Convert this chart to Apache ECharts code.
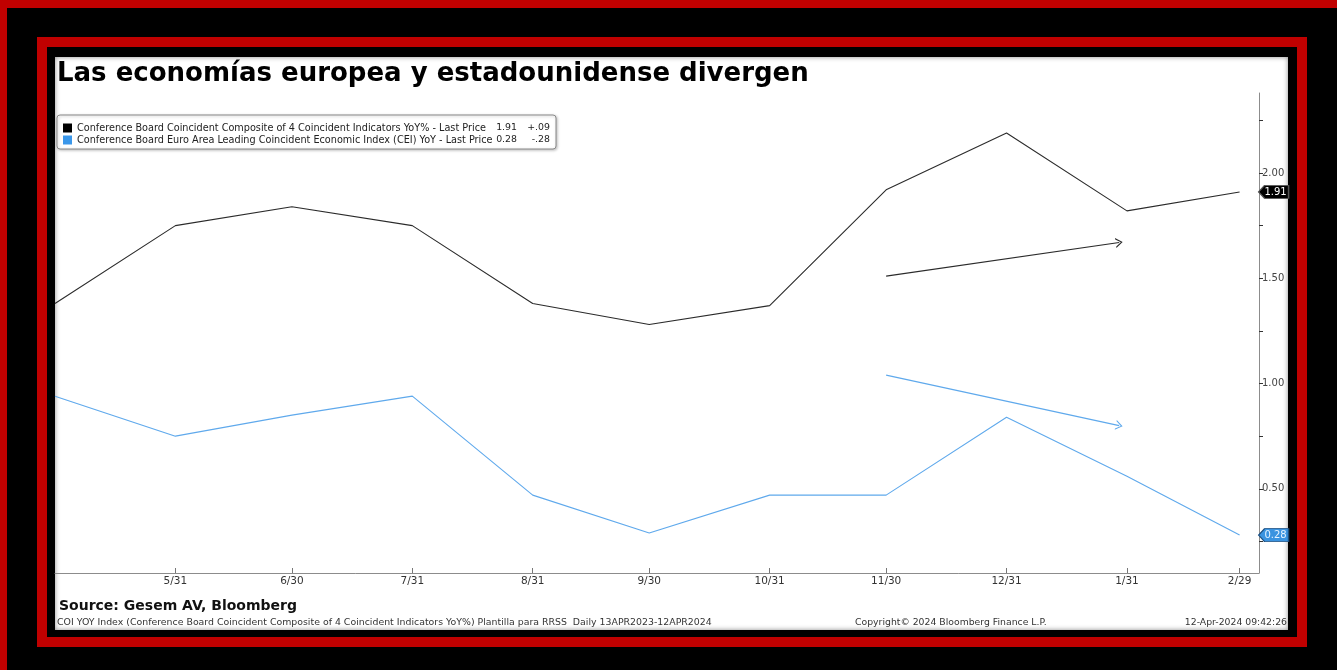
<!DOCTYPE html>
<html>
<head>
<meta charset="utf-8">
<script src="https://cdn.jsdelivr.net/npm/echarts@6/dist/echarts.min.js"></script>
<style>
  html, body { margin: 0; padding: 0; width: 1337px; height: 670px; overflow: hidden; background: #000; }
  .abs { position: absolute; }
  #topRed { left: 0; top: 0; width: 1337px; height: 8px; background: #c00000; }
  #leftRed { left: 0; top: 0; width: 7px; height: 670px; background: #c00000; }
  #frame { left: 37px; top: 37px; width: 1250px; height: 590px; border: 10px solid #c00000; background: #000; }
  #panel { left: 55px; top: 57px; width: 1233px; height: 573px; background: #fff; box-shadow: inset 0 0 5px rgba(0,0,0,0.45); }
  #chart { left: 0; top: 0; width: 1337px; height: 670px; }
</style>
</head>
<body>
<div class="abs" id="topRed"></div>
<div class="abs" id="leftRed"></div>
<div class="abs" id="frame"></div>
<div class="abs" id="panel"></div>
<div class="abs" id="chart"></div>
<script>
// ---- Data ----
const dates = ['2023-04-30','2023-05-31','2023-06-30','2023-07-31','2023-08-31','2023-09-30','2023-10-31','2023-11-30','2023-12-31','2024-01-31','2024-02-29'];
const usValues = [1.38, 1.75, 1.84, 1.75, 1.38, 1.28, 1.37, 1.92, 2.19, 1.82, 1.91];
const euValues = [0.94, 0.75, 0.85, 0.94, 0.47, 0.29, 0.47, 0.47, 0.84, 0.56, 0.28];
const xTickLabels = ['2023-05-31','2023-06-30','2023-07-31','2023-08-31','2023-09-30','2023-10-31','2023-11-30','2023-12-31','2024-01-31','2024-02-29'];
const yTickLabels = [0.5, 1.0, 1.5, 2.0];
const yMinorTicks = [0.25, 0.5, 0.75, 1.0, 1.25, 1.5, 1.75, 2.0, 2.25];
const usChange = '+.09';
const euChange = '-.28';
const usArrow = [['2023-11-30', 1.51], ['2024-01-29', 1.67]];
const euArrow = [['2023-11-30', 1.04], ['2024-01-29', 0.80]];
const usName = 'Conference Board Coincident Composite of 4 Coincident Indicators YoY% - Last Price';
const euName = 'Conference Board Euro Area Leading Coincident Economic Index (CEI) YoY - Last Price';

const ts = s => new Date(s + 'T00:00:00').getTime();
const usData = dates.map((d, i) => [ts(d), usValues[i]]);
const euData = dates.map((d, i) => [ts(d), euValues[i]]);

const chevron = 'path://M0,10 L5,0 L10,10 L8.6,10 L5,2.6 L1.4,10 Z';
const tagPath = 'path://M0,6 L6,0 L30,0 L30,12 L6,12 Z';

function arrowLine(a, color) {
  return {
    silent: true,
    symbol: ['none', chevron],
    symbolSize: [10, 7],
    label: { show: false },
    lineStyle: { color: color, width: 1.2, type: 'solid' },
    emphasis: { disabled: true },
    data: [[{ coord: [ts(a[0][0]), a[0][1]] }, { coord: [ts(a[1][0]), a[1][1]] }]]
  };
}
function tag(data, fill, stroke, textColor) {
  const last = data[data.length - 1];
  return {
    silent: true,
    symbol: tagPath,
    symbolSize: [30, 13],
    symbolOffset: [34, 0],
    itemStyle: { color: fill, borderColor: stroke, borderWidth: 1 },
    label: {
      show: true, position: 'inside', offset: [2, 0],
      formatter: () => last[1].toFixed(2),
      color: textColor, fontSize: 10, fontFamily: 'DejaVu Sans'
    },
    data: [{ coord: last, value: last[1] }]
  };
}

const lastUS = usValues[usValues.length - 1].toFixed(2);
const lastEU = euValues[euValues.length - 1].toFixed(2);

const chart = echarts.init(document.getElementById('chart'), null, { renderer: 'canvas' });
chart.setOption({
  backgroundColor: 'transparent',
  animation: false,
  title: {
    text: 'Las economías europea y estadounidense divergen',
    left: 57, top: 61, padding: 0,
    textStyle: { fontFamily: 'DejaVu Sans', fontWeight: 'bold', fontSize: 26, color: '#000' }
  },
  legend: {
    orient: 'vertical',
    left: 57, top: 115,
    padding: [7, 6, 3, 6],
    itemGap: 0,
    itemWidth: 9, itemHeight: 9,
    icon: 'rect',
    backgroundColor: '#fff',
    borderColor: '#8a8a8a', borderWidth: 1, borderRadius: 3,
    shadowColor: 'rgba(0,0,0,0.25)', shadowBlur: 3, shadowOffsetX: 1, shadowOffsetY: 1,
    selectedMode: false,
    data: [usName, euName],
    formatter: name => {
      const isUS = name === usName;
      return '{n|' + name + '}{v|' + (isUS ? lastUS : lastEU) + '}{c|' + (isUS ? usChange : euChange) + '}';
    },
    textStyle: {
      fontFamily: 'DejaVu Sans', fontSize: 9.7, color: '#222', lineHeight: 12,
      rich: {
        n: { width: 420, fontFamily: 'DejaVu Sans', fontSize: 9.7, color: '#222', lineHeight: 12 },
        v: { width: 20, align: 'right', fontFamily: 'DejaVu Sans', fontSize: 9.4, color: '#222', lineHeight: 12 },
        c: { width: 33, align: 'right', fontFamily: 'DejaVu Sans', fontSize: 9.4, color: '#222', lineHeight: 12 }
      }
    }
  },
  grid: { left: 55, right: 78, top: 93, bottom: 97, containLabel: false },
  xAxis: {
    type: 'value',
    min: ts('2023-04-30'),
    max: ts('2024-03-05'),
    axisLine: { lineStyle: { color: '#8c8c8c', width: 1 } },
    axisTick: { show: true, inside: true, length: 5, lineStyle: { color: '#777' }, customValues: xTickLabels.map(ts) },
    axisLabel: {
      customValues: xTickLabels.map(ts),
      formatter: v => { const d = new Date(v); return (d.getMonth() + 1) + '/' + d.getDate(); },
      color: '#333', fontSize: 10.5, fontFamily: 'DejaVu Sans', margin: 3
    },
    splitLine: { show: false }
  },
  yAxis: {
    type: 'value',
    position: 'right',
    min: 0.1, max: 2.38,
    axisLine: { show: true, lineStyle: { color: '#8c8c8c', width: 1 } },
    axisTick: { show: true, length: 4, lineStyle: { color: '#333' }, customValues: yMinorTicks },
    axisLabel: {
      customValues: yTickLabels,
      formatter: v => v.toFixed(2),
      color: '#444', fontSize: 10, fontFamily: 'DejaVu Sans', margin: 3
    },
    splitLine: { show: false }
  },
  series: [
    {
      name: usName, type: 'line', data: usData,
      symbol: 'none', lineStyle: { color: '#2b2b2b', width: 1.1 },
      itemStyle: { color: '#000' },
      markLine: arrowLine(usArrow, '#2b2b2b'),
      markPoint: tag(usData, '#000', '#555', '#fff'),
      z: 3
    },
    {
      name: euName, type: 'line', data: euData,
      symbol: 'none', lineStyle: { color: '#5fa9ec', width: 1.1 },
      itemStyle: { color: '#3a97ea' },
      markLine: arrowLine(euArrow, '#5fa9ec'),
      markPoint: tag(euData, '#3a93e0', '#1d4f80', '#e6f3ff'),
      z: 2
    }
  ],
  graphic: [
    { type: 'text', left: 59, top: 599, style: { text: 'Source: Gesem AV, Bloomberg', font: 'bold 14px "DejaVu Sans"', fill: '#111' } },
    { type: 'text', left: 57, top: 618, style: { text: 'COI YOY Index (Conference Board Coincident Composite of 4 Coincident Indicators YoY%) Plantilla para RRSS  Daily 13APR2023-12APR2024', font: '9.4px "DejaVu Sans"', fill: '#333' } },
    { type: 'text', left: 855, top: 618, style: { text: 'Copyright\u00A9 2024 Bloomberg Finance L.P.', font: '9.3px "DejaVu Sans"', fill: '#333' } },
    { type: 'text', right: 50, top: 618, style: { text: '12-Apr-2024 09:42:26', font: '9.3px "DejaVu Sans"', fill: '#333' } }
  ]
});
</script>
</body>
</html>
